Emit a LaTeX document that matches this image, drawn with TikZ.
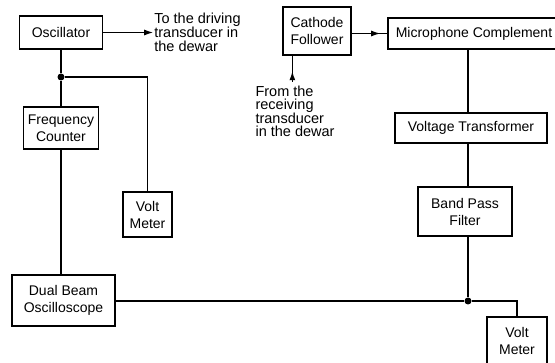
\documentclass[tikz,border=0pt]{standalone}
\usepackage{fontspec}
\setmainfont{Liberation Sans}
\usepackage{tikz}
\usetikzlibrary{arrows.meta, positioning, decorations.markings}
\tikzstyle{unit} = [rectangle, draw=black, line width=1.3pt, align=center, inner sep=2pt, font=\fontsize{14}{17}\selectfont]
\tikzstyle{note} = [align=left, inner sep=0pt, font=\fontsize{14.5}{14}\selectfont]
\tikzstyle{wire} = [line width=1.2pt]
\tikzstyle{arrow} = [wire, -{Latex[length=9pt,width=6pt]}]
\tikzstyle{dot} = [circle, fill=black, inner sep=0pt, minimum size=7pt]
\tikzset{feed/.style={wire, postaction={decorate}, decoration={markings, mark=at position #1 with {\arrow{Latex[length=9pt,width=6pt]}}}}}

\begin{document}
\begin{tikzpicture}[x=1pt, y=1pt, node distance=95.5pt]
\useasboundingbox (0,0) rectangle (555,362);

% Driving side
\node (osc) [unit, minimum width=83pt, minimum height=33pt] at (61,329.5) {Oscillator};
\node (freq) [unit, below of=osc, minimum width=75pt, minimum height=42pt] {Frequency\\Counter};
\node (volt1) [unit, below of=freq, xshift=86.5pt, yshift=9pt, minimum width=49pt, minimum height=45pt] {Volt\\Meter};
\node (dual) [unit, below of=freq, xshift=2.5pt, yshift=-77pt, minimum width=103pt, minimum height=51pt] {Dual Beam\\Oscilloscope};
\node (todrive) [note, right=51pt of osc] {To the driving\\transducer in\\the dewar};
\node (jl) [dot] at (61,285) {};

% Receiving side
\node (cf) [unit, right of=osc, xshift=160.5pt, yshift=1.5pt, minimum width=68pt, minimum height=48pt] {Cathode\\Follower};
\node (mc) [unit, right of=cf, xshift=61.5pt, yshift=-2.5pt, minimum width=172pt, minimum height=31pt] {Microphone Complement};
\node (vt) [unit, below of=mc, xshift=-3pt, yshift=1pt, minimum width=152pt, minimum height=30pt] {Voltage Transformer};
\node (bpf) [unit, below of=vt, xshift=-6pt, yshift=12pt, minimum width=94pt, minimum height=49pt] {Band Pass\\Filter};
\node (volt2) [unit, below of=bpf, xshift=52pt, yshift=-34pt, minimum width=60pt, minimum height=48pt] {Volt\\Meter};
\node (recv) [note, font=\fontsize{14.5}{13}\selectfont, below=30pt of cf.south west, anchor=north west, xshift=-27pt] {From the\\receiving\\transducer\\in the dewar};
\node (jr) [dot] at (468,61) {};
\coordinate (rin) at ([xshift=37pt, yshift=4pt]recv.north west);

% Connections
\draw [arrow] (osc.east) -- ([xshift=-1pt]todrive.west);
\draw [wire] (osc) -- (jl) -- (freq);
\draw [wire] (jl) -| (volt1);
\draw [wire] (freq.south) -- (freq.south |- dual.north);
\draw [feed=0.4] (rin) -- (rin |- cf.south);
\draw [feed=0.8] (cf.east |- mc.west) -- (mc.west);
\draw [wire] (mc.south -| jr) -- (vt.north -| jr);
\draw [wire] (vt.south -| jr) -- (bpf.north -| jr);
\draw [wire] (bpf.south -| jr) -- (jr);
\draw [wire] (dual.east |- jr) -- (jr);
\draw [wire] (jr) -| (volt2);

\end{tikzpicture}
\end{document}
